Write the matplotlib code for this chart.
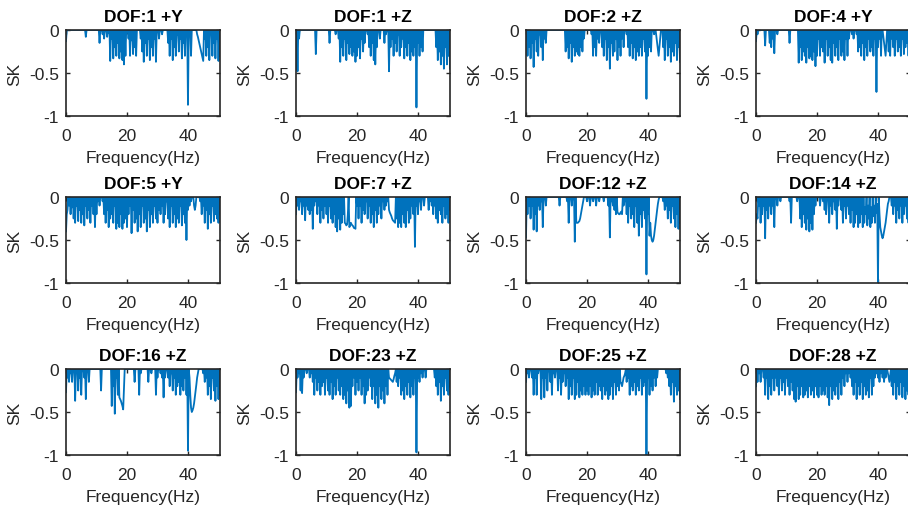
import numpy as np
import matplotlib
matplotlib.use('Agg')
import matplotlib.pyplot as plt

plt.rcParams['font.family'] = ['Liberation Sans', 'DejaVu Sans']

# frequency grid, 0.25 Hz steps (0 .. 50.5 Hz)
freq = np.arange(0, 50.75, 0.25)

titles = ['DOF:1 +Y', 'DOF:1 +Z', 'DOF:2 +Z', 'DOF:4 +Y',
          'DOF:5 +Y', 'DOF:7 +Z', 'DOF:12 +Z', 'DOF:14 +Z',
          'DOF:16 +Z', 'DOF:23 +Z', 'DOF:25 +Z', 'DOF:28 +Z']

# SK values in hundredths, one row = 5 Hz
dof1_y = [-13, 0, 0, 0, 0, 0, 0, 0, 0, 0, 0, 0, 0, 0, 0, 0, 0, 0, 0, 0,
          0, 0, 0, 0, 0, 0, -8, 0, 0, 0, 0, 0, 0, 0, 0, 0, 0, 0, 0, 0,
          0, 0, 0, 0, -15, 0, 0, 0, -5, 0, -10, 0, 0, 0, -8, 0, -3, 0, -36, 0,
          -10, 0, -33, 0, -20, 0, -30, 0, -15, 0, -33, 0, -25, 0, -35, 0, -40, 0, -30, 0,
          0, 0, -10, 0, -30, 0, -12, 0, -28, 0, -20, 0, -30, 0, 0, 0, 0, 0, -10, 0,
          -25, 0, -37, 0, -15, 0, -30, 0, -10, 0, -35, 0, -20, 0, -30, 0, -10, 0, -37, 0,
          0, 0, -10, 0, 0, 0, -5, 0, 0, 0, 0, 0, 0, 0, -15, 0, -30, 0, -10, 0,
          -35, 0, -20, 0, -30, 0, -5, 0, -25, 0, -10, 0, -33, 0, -15, 0, -30, 0, 0, 0,
          -87, 0, 0, 0, -30, 0, 0, 0, 0, 0, 0, 0, -5, -8, -12, -16, -20, -24, -28, -32,
          -36, 0, -10, 0, -30, 0, -20, 0, -35, 0, 0, 0, -30, 0, -15, 0, -33, 0, -10, 0, -36, 0, -30]

dof1_z = [-45, 0, -48, 0, -10, 0, 0, 0, 0, 0, 0, 0, 0, 0, 0, 0, 0, 0, 0, 0,
          0, 0, 0, 0, 0, 0, -28, 0, 0, 0, 0, 0, 0, 0, 0, 0, 0, 0, 0, 0,
          0, 0, 0, 0, -15, 0, 0, 0, 0, 0, 0, 0, -5, 0, 0, 0, -10, 0, -37, 0,
          -20, 0, -30, 0, -10, 0, -35, 0, -15, 0, -28, 0, -20, 0, -30, 0, -25, 0, -37, 0,
          -30, 0, -20, 0, -33, 0, -10, 0, -25, 0, -15, 0, 0, 0, -5, 0, -20, 0, -30, 0,
          -15, 0, -35, 0, -40, 0, -20, 0, 0, 0, -10, 0, 0, 0, 0, 0, -15, 0, -5, 0,
          0, 0, -48, 0, -20, 0, -10, 0, -30, 0, -15, 0, -25, 0, -5, 0, -30, 0, -20, 0,
          -10, 0, -33, 0, -20, 0, -30, 0, -15, 0, -35, 0, -25, 0, -30, 0, -20, 0, -90, 0,
          -15, 0, -30, 0, -20, 0, -25, 0, 0, 0, 0, 0, 0, 0, 0, 0, 0, 0, 0, 0,
          0, 0, 0, 0, -20, 0, -35, 0, -25, 0, -40, 0, -30, 0, -45, 0, -20, 0, -40, 0, -30, 0, -45]

dof2_z = [-10, 0, -30, 0, -20, 0, -33, 0, -15, 0, -43, 0, -10, 0, -25, 0, -30, 0, -5, 0,
          -20, 0, -35, 0, -10, 0, -15, 0, 0, 0, 0, 0, 0, 0, 0, 0, 0, 0, 0, 0,
          0, 0, 0, 0, 0, 0, 0, 0, 0, 0, 0, 0, -25, 0, -20, 0, -33, 0, -15, 0,
          -37, 0, -20, 0, -30, 0, -25, 0, -28, 0, -30, 0, -20, 0, -25, 0, -10, 0, 0, 0,
          0, 0, 0, 0, 0, 0, -5, 0, -30, 0, -20, 0, -30, 0, -10, 0, -15, 0, 0, 0,
          -20, 0, -30, 0, -10, 0, -35, 0, -20, 0, -45, 0, -15, 0, -30, 0, -25, 0, -10, 0,
          -35, 0, -20, 0, -30, 0, -10, 0, -20, 0, 0, 0, -5, 0, -20, 0, -30, 0, -15, 0,
          -33, 0, -20, 0, -35, 0, -25, 0, -30, 0, -20, 0, -30, 0, -10, 0, -25, 0, -80, 0,
          -30, 0, -20, 0, -25, 0, 0, 0, -5, 0, 0, -8, -15, -22, -30, -20, -10, 0, 0, 0,
          -20, 0, -35, 0, -10, 0, -30, 0, -20, 0, -37, 0, -25, 0, -30, 0, -15, 0, -35, 0, -20, 0, -37]

dof4_y = [-13, 0, -5, 0, 0, 0, 0, 0, 0, 0, 0, 0, -18, 0, 0, 0, 0, 0, -15, 0,
          -20, 0, -10, 0, -27, 0, 0, 0, -5, 0, 0, 0, 0, 0, 0, 0, 0, 0, 0, 0,
          0, 0, 0, 0, -15, 0, 0, 0, 0, 0, 0, 0, 0, 0, 0, 0, -38, 0, -20, 0,
          -35, 0, -25, 0, -30, 0, -38, 0, -20, 0, -33, 0, -30, 0, -35, 0, -25, 0, -42, 0,
          -30, 0, -10, 0, -30, 0, -20, 0, -25, 0, -38, 0, -10, 0, -30, 0, -20, 0, -35, 0,
          -38, 0, -15, 0, -30, 0, -20, 0, -35, 0, -10, 0, -30, 0, -25, 0, -35, 0, -10, 0,
          -30, 0, -10, 0, 0, 0, -5, 0, -10, 0, 0, 0, -5, 0, -25, 0, -20, 0, -30, 0,
          -15, 0, -35, 0, -20, 0, -30, 0, -10, 0, -25, 0, -20, 0, -30, 0, -10, 0, -72, 0,
          -20, 0, -10, 0, -30, 0, 0, -8, -15, -22, -30, -15, 0, 0, -25, 0, -30, 0, -10, 0,
          -20, 0, -30, 0, -10, 0, -25, 0, -20, 0, -30, 0, -10, 0, -28, 0, -20, 0, -15, 0, -30, 0, -10]

dof5_y = [-40, -20, -15, 0, -10, 0, -20, 0, -12, 0, -25, 0, -30, 0, -10, 0, -28, 0, -15, 0,
          -30, 0, -20, 0, -33, 0, -10, 0, -25, 0, -15, 0, -30, 0, -10, 0, -20, 0, -35, 0,
          -20, 0, -5, 0, -10, 0, 0, 0, -5, 0, -20, 0, -30, 0, -15, 0, -35, 0, -25, 0,
          -20, 0, -30, 0, -10, 0, -37, 0, -30, 0, -35, 0, -20, 0, -37, 0, -30, 0, -25, 0,
          -35, 0, -20, 0, -10, 0, -42, 0, -15, 0, -30, 0, -25, 0, -40, 0, -20, 0, -35, 0,
          -10, 0, -30, 0, -25, 0, -40, 0, -15, 0, -35, 0, -20, 0, -30, 0, -10, 0, -25, 0,
          -30, 0, -15, 0, -20, 0, -10, 0, -30, 0, -20, 0, -5, 0, -25, 0, -35, 0, -10, 0,
          -30, 0, -20, 0, -35, 0, -25, 0, -30, 0, -10, 0, -33, 0, -20, 0, -30, 0, -50, 0,
          -15, 0, -10, 0, -5, 0, 0, 0, -10, -15, -10, 0, 0, 0, 0, 0, -5, 0, -20, 0,
          -10, 0, -30, 0, -15, 0, -37, 0, -20, 0, -30, 0, -10, 0, -28, 0, -20, 0, -25, 0, -30, 0, -20]

dof7_z = [-20, 0, -10, 0, -15, 0, -5, 0, -20, 0, -10, 0, -27, 0, -10, 0, -15, 0, -20, 0,
          -15, 0, -37, 0, -10, 0, -5, 0, -20, 0, -10, 0, -30, 0, -15, 0, -25, 0, -10, 0,
          -20, 0, -30, 0, -10, 0, -25, 0, -30, 0, -20, 0, -35, 0, -40, 0, -25, 0, -38, 0,
          -30, 0, -20, 0, -30, -31, -33, -32, -20, 0, -35, -33, -30, -32, -33, -34, -36, -36, -37, 0,
          -10, 0, -25, 0, -10, 0, -30, 0, -15, 0, -20, 0, -5, 0, -25, 0, -10, 0, -30, 0,
          -20, 0, -35, 0, -15, 0, -30, 0, -20, 0, -10, 0, -25, 0, -5, 0, -15, 0, -10, 0,
          -5, 0, -15, -18, -20, -22, -25, -27, -28, -29, -30, 0, -25, 0, -35, 0, -30, 0, -35, 0,
          -20, 0, -30, 0, -35, 0, -15, 0, -30, 0, -25, 0, -10, 0, -20, 0, -58, 0, -10, 0,
          -20, 0, -5, 0, -15, 0, 0, 0, -10, 0, 0, 0, 0, 0, -15, 0, -5, 0, -10, 0,
          -20, 0, -10, 0, -25, 0, -30, 0, -15, 0, -20, 0, -30, 0, -10, 0, -25, 0, -20, 0, -30, 0, -15]

dof12_z = [-47, 0, -20, 0, -10, 0, -25, 0, -10, 0, -38, 0, -20, 0, -40, 0, -10, 0, -15, 0,
           -5, 0, -35, 0, 0, 0, -10, 0, 0, 0, 0, 0, 0, 0, 0, 0, 0, 0, 0, 0,
           0, 0, 0, 0, -10, 0, 0, 0, 0, 0, 0, 0, 0, 0, -5, 0, -30, 0, 0, 0,
           -10, 0, 0, 0, -52, 0, -30, -30, -30, -29, -28, -25, -20, -15, -10, -5, 0, 0, 0, 0,
           -5, 0, 0, 0, -10, 0, 0, 0, -5, 0, 0, 0, -10, 0, 0, 0, -5, 0, 0, 0,
           0, 0, -5, 0, 0, 0, 0, 0, -10, 0, -47, 0, -5, 0, -10, 0, -15, 0, -20, 0,
           -18, -19, -20, -20, -18, -17, -20, 0, -10, 0, -5, 0, -20, 0, -30, 0, -10, 0, -25, 0,
           -20, 0, -35, 0, -10, 0, -30, 0, -45, 0, -20, 0, -35, 0, -15, 0, -25, 0, -90, 0,
           -20, 0, -45, -30, -45, -50, -52, -50, -45, -38, -30, -22, -15, -8, -3, 0, 0, 0, 0, 0,
           -5, 0, -15, 0, -10, 0, -25, 0, -15, 0, -30, 0, -10, 0, -25, 0, -35, 0, -20, 0, -37, 0, -30]

dof14_z = [-30, -20, -25, 0, -10, 0, -30, 0, -20, 0, -10, 0, -48, 0, -15, 0, -25, 0, -10, 0,
           -20, 0, -10, 0, -35, 0, 0, 0, -10, 0, 0, 0, -5, 0, 0, 0, 0, 0, 0, 0,
           0, 0, 0, 0, -5, 0, -30, 0, 0, 0, 0, 0, 0, 0, -5, 0, 0, 0, -25, 0,
           -35, 0, -20, 0, -30, 0, -38, 0, -25, 0, -40, 0, -30, 0, -38, 0, -20, 0, -10, 0,
           0, 0, 0, 0, -10, 0, 0, 0, -5, 0, -15, 0, -20, 0, 0, 0, -30, 0, -10, 0,
           -20, 0, -5, 0, -15, 0, -37, 0, -10, 0, 0, 0, -15, 0, -30, 0, -10, 0, -25, 0,
           -10, 0, -20, 0, -30, 0, -15, 0, -35, 0, -30, 0, -20, 0, -35, 0, -30, 0, -20, 0,
           -35, 0, -30, -12, -20, 0, -33, -10, -25, 0, -35, -12, -30, 0, -22, -10, -30, 0, -18, -8,
           -100, 0, -20, -35, -40, -45, -48, -45, -40, -35, -30, -22, -15, -8, -5, 0, 0, 0, -10, 0,
           -20, 0, -10, 0, -30, 0, -15, 0, -25, 0, -10, 0, -30, 0, -20, 0, -10, 0, -25, 0, -30, 0, -15]

dof16_z = [-27, 0, -10, 0, -15, 0, -5, 0, -15, 0, 0, 0, -37, 0, 0, 0, -25, 0, -10, 0,
           -30, 0, 0, 0, -10, 0, -35, 0, 0, 0, -15, 0, 0, 0, 0, 0, 0, 0, 0, 0,
           0, 0, 0, 0, 0, 0, -25, 0, 0, 0, 0, 0, 0, 0, 0, 0, 0, 0, 0, 0,
           -43, 0, -20, 0, -52, 0, -10, 0, -30, 0, -33, -35, -37, -40, -43, -47, -25, 0, 0, 0,
           0, 0, 0, 0, 0, 0, 0, 0, 0, 0, -15, 0, 0, 0, 0, 0, -30, 0, -5, 0,
           0, 0, 0, 0, 0, 0, 0, 0, -15, 0, 0, 0, -5, 0, 0, 0, 0, 0, -30, 0,
           -10, 0, 0, 0, -5, 0, -10, 0, -33, 0, -10, 0, 0, 0, -10, 0, -20, 0, -5, 0,
           -25, 0, -10, 0, -30, 0, -20, 0, -15, 0, -30, 0, -20, 0, -25, 0, -10, 0, -30, 0,
           -95, 0, -10, -30, -45, -50, -48, -45, -40, -33, -25, -18, -10, -5, 0, 0, 0, 0, 0, 0,
           -5, 0, -15, 0, -10, 0, -30, 0, -20, 0, -35, 0, -10, 0, -25, 0, -37, 0, -20, 0, -35, 0, -30]

dof23_z = [-27, 0, -10, 0, -5, 0, -25, 0, -28, 0, -10, 0, 0, 0, -5, 0, 0, 0, -10, 0,
           -5, 0, -15, 0, -30, 0, -10, 0, -25, 0, -15, 0, -30, 0, -20, 0, -15, 0, -30, 0,
           -10, 0, -25, 0, -30, 0, -15, 0, -35, 0, -20, 0, -30, 0, -10, 0, -25, 0, -30, 0,
           -20, 0, -35, 0, -30, 0, -40, 0, -25, 0, -45, 0, -43, 0, -20, 0, -10, 0, -30, 0,
           -15, 0, -25, 0, -10, 0, -30, 0, -20, 0, -40, 0, -30, 0, -25, 0, -10, 0, -20, 0,
           -35, 0, -20, 0, -40, 0, -30, 0, -45, 0, -20, 0, -35, 0, -25, 0, -40, 0, -20, 0,
           -30, 0, -10, -11, -12, -13, -14, -15, -12, -8, -5, 0, -15, 0, -20, 0, -10, 0, -30, 0,
           -25, 0, -35, 0, -20, 0, -30, 0, -15, 0, -33, 0, -20, 0, -30, 0, -10, 0, -97, 0,
           -10, 0, -15, 0, -5, 0, -10, 0, 0, 0, -10, 0, 0, 0, 0, 0, 0, 0, 0, 0,
           0, 0, -10, 0, -20, 0, -30, 0, -15, 0, -37, 0, -20, 0, -30, 0, -10, 0, -25, 0, -30, 0, -20]

dof25_z = [-15, 0, -5, 0, -10, 0, 0, 0, -10, 0, -30, 0, -10, 0, -30, 0, -5, 0, 0, 0,
           -35, 0, -10, 0, -33, 0, -10, 0, -25, 0, 0, 0, -15, 0, -30, 0, -5, 0, -10, 0,
           0, 0, -25, 0, -10, 0, -30, 0, -15, 0, -5, 0, -20, 0, -10, 0, -35, 0, -20, 0,
           -30, 0, -10, 0, -35, 0, -30, 0, -15, 0, -33, 0, -25, 0, -30, 0, -20, 0, -30, 0,
           -25, 0, -30, 0, -20, 0, -33, 0, -25, 0, -30, 0, -15, 0, -30, 0, -20, 0, -25, 0,
           -35, 0, -20, 0, -30, 0, -25, 0, -35, 0, -30, 0, -20, 0, -35, 0, -15, 0, -30, 0,
           -20, 0, -25, 0, -15, -17, -20, -15, -10, -8, -5, 0, -15, 0, -10, 0, -30, 0, -20, 0,
           -25, 0, -15, 0, -30, 0, -20, 0, -25, 0, -10, 0, -30, 0, -20, 0, -15, 0, -100, 0,
           -10, 0, -30, 0, -20, 0, -25, 0, -10, 0, -20, 0, -10, 0, 0, 0, 0, 0, 0, 0,
           0, 0, 0, 0, -5, 0, -10, 0, -20, 0, -30, 0, -15, 0, -38, 0, -20, 0, -30, 0, -25, 0, -35]

dof28_z = [-20, 0, -15, 0, -5, 0, -15, 0, 0, 0, -10, 0, -30, 0, -10, 0, -35, 0, -20, 0,
           -30, 0, -10, 0, -25, 0, -10, 0, -20, 0, -30, 0, -10, 0, -25, 0, -15, 0, -30, 0,
           -10, 0, -20, 0, -30, 0, -15, 0, -25, 0, -35, 0, -38, 0, -20, 0, -35, 0, -30, 0,
           -20, 0, -33, 0, -30, 0, -25, 0, -33, 0, -20, 0, -30, 0, -25, 0, -33, 0, -20, 0,
           -30, 0, -33, 0, -20, 0, -30, 0, -25, 0, -30, 0, -20, 0, -33, 0, -42, 0, -20, 0,
           -35, 0, -25, 0, -30, 0, -20, 0, -35, 0, -15, 0, -30, 0, -10, 0, -20, 0, -5, 0,
           -15, 0, -5, 0, -10, 0, -20, 0, -30, 0, -15, 0, -35, 0, -20, 0, -30, 0, -15, 0,
           -35, 0, -20, 0, -30, 0, -25, 0, -33, 0, -10, 0, -30, 0, -20, 0, -10, 0, -5, 0,
           -10, 0, -15, 0, -5, 0, -10, 0, -15, 0, -10, 0, 0, -5, -10, -15, -8, 0, -20, 0,
           -30, 0, -15, 0, -35, 0, -20, 0, -30, 0, -15, 0, -33, 0, -20, 0, -35, 0, -25, 0, -30, 0, -20]

series = [dof1_y, dof1_z, dof2_z, dof4_y,
          dof5_y, dof7_z, dof12_z, dof14_z,
          dof16_z, dof23_z, dof25_z, dof28_z]

W, H = 908, 510
fig = plt.figure(figsize=(W / 100, H / 100), dpi=100)

col_left = [66, 296, 526, 756]
row_top = [31, 198, 370]
ax_w, ax_h = 154, 86
dark = '#262626'

for k, (name, sk) in enumerate(zip(titles, series)):
    r, c = divmod(k, 4)
    ax = fig.add_axes([col_left[c] / W, 1 - (row_top[r] + ax_h) / H, ax_w / W, ax_h / H])
    ax.plot(freq, np.array(sk) / 100, color='#0072BD', linewidth=1.3)
    ax.set_xlim(0, 50.5)
    ax.set_ylim(-1, 0)
    ax.set_xticks([0, 20, 40])
    ax.set_yticks([-1, -0.5, 0])
    ax.set_yticklabels(['-1', '-0.5', '0'])
    ax.tick_params(direction='in', top=True, right=True, length=3, width=1,
                   labelsize=12.5, colors=dark)
    ax.tick_params(axis='x', pad=9)
    ax.tick_params(axis='y', pad=5)
    for s in ax.spines.values():
        s.set_color(dark)
        s.set_linewidth(1.2)
    ax.set_title(name, fontsize=12.5, fontweight='bold', color='black', pad=6.5)
    ax.set_xlabel('Frequency(Hz)', fontsize=12.5, color=dark, labelpad=5)
    ax.set_ylabel('SK', fontsize=12.5, color=dark, labelpad=5)

fig.savefig('out.png', dpi=100)
